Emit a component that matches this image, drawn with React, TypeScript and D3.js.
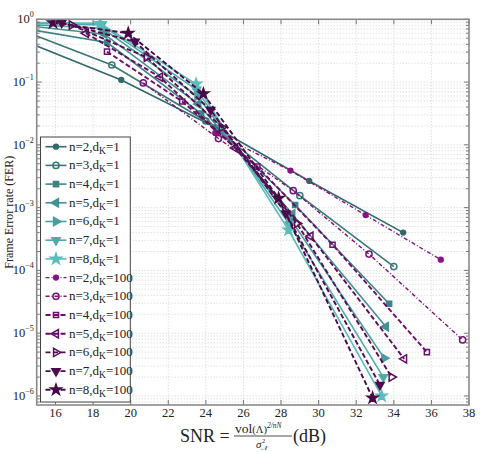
import React from 'react';
import * as d3 from 'd3';

// SNR (dB) and FER per series
// d_K = 1 (solid)
const snrA2 = [15, 19.5, 24.5, 29.5, 34.5];
const ferA2 = [0.376, 0.108, 0.0191, 2.66e-3, 4.0e-4];
const snrA3 = [15, 19, 24, 29, 34];
const ferA3 = [0.542, 0.187, 0.024, 1.55e-3, 1.15e-4];
const snrA4 = [15, 18.75, 23.75, 28.75, 33.75];
const ferA4 = [0.66, 0.427, 0.0316, 1.1e-3, 2.95e-5];
const snrA5 = [15, 18.6, 23.6, 28.6, 33.58];
const ferA5 = [0.76, 0.58, 0.0447, 7.9e-4, 1.27e-5];
const snrA6 = [15, 18.5, 23.55, 28.5, 33.49];
const ferA6 = [0.81, 0.72, 0.06, 6.6e-4, 4.0e-6];
const snrA7 = [15, 18.45, 23.5, 28.45, 33.44];
const ferA7 = [0.86, 0.81, 0.076, 5.4e-4, 2.0e-6];
const snrA8 = [15, 18.38, 23.48, 28.4, 33.35];
const ferA8 = [0.89, 0.86, 0.093, 4.4e-4, 1.0e-6];

// d_K = 100 (dashed)
const snrB2 = [24.5, 28.5, 32.5, 36.5];
const ferB2 = [0.0155, 3.9e-3, 7.6e-4, 1.48e-4];
const snrB3 = [20.67, 24.67, 28.65, 32.68, 37.66];
const ferB3 = [0.097, 0.0126, 1.86e-3, 1.82e-4, 7.8e-6];
const snrB4 = [18.74, 22.74, 26.74, 30.74, 35.76];
const ferB4 = [0.305, 0.049, 4.5e-3, 2.57e-4, 5.0e-6];
const snrB5 = [17.62, 21.56, 25.56, 29.57, 34.55];
const ferB5 = [0.6, 0.12, 8.9e-3, 3.5e-4, 3.9e-6];
const snrB6 = [16.86, 20.85, 24.85, 28.85, 33.88];
const ferB6 = [0.81, 0.248, 0.019, 5.6e-4, 2.0e-6];
const snrB7 = [16.33, 20.23, 24.25, 28.25, 33.26];
const ferB7 = [0.88, 0.44, 0.036, 8.1e-4, 1.5e-6];
const snrB8 = [15.87, 19.87, 23.87, 27.87, 32.87];
const ferB8 = [0.88, 0.6, 0.065, 1.41e-3, 9.3e-7];

const nValues = [2, 3, 4, 5, 6, 7, 8];
const xTicks = [16, 18, 20, 22, 24, 26, 28, 30, 32, 34, 36, 38];
const yTickExps = [0, -1, -2, -3, -4, -5, -6];

const tealColors = ['#326969', '#3a7777', '#3f8484', '#459090', '#4b9d9d', '#52abab', '#5bbcbc'];
const purpleColors = ['#861486', '#7a117a', '#6c0f6c', '#600d60', '#570c57', '#4f0b4f', '#470a47'];

const seriesA = [
  [snrA2, ferA2], [snrA3, ferA3], [snrA4, ferA4], [snrA5, ferA5],
  [snrA6, ferA6], [snrA7, ferA7], [snrA8, ferA8],
];
const seriesB = [
  [snrB2, ferB2], [snrB3, ferB3], [snrB4, ferB4], [snrB5, ferB5],
  [snrB6, ferB6], [snrB7, ferB7], [snrB8, ferB8],
];

const W = 499;
const H = 452;
const margin = { top: 19.3, right: 30, bottom: 47, left: 36.7 };
const iw = W - margin.left - margin.right;
const ih = H - margin.top - margin.bottom;
const FONT = "'Liberation Serif', 'Times New Roman', 'DejaVu Serif', serif";

const x = d3.scaleLinear().domain([15, 38]).range([0, iw]);
const y = d3.scaleLog().domain([7.18e-7, 1]).range([ih, 0]);

// marker spec per n: symbol, rotation, size
const markerSpec = (n: number) => {
  switch (n) {
    case 2: return { type: d3.symbolCircle, rot: 0, size: 18 };
    case 3: return { type: d3.symbolCircle, rot: 0, size: 30 };
    case 4: return { type: d3.symbolSquare, rot: 0, size: 26 };
    case 5: return { type: d3.symbolTriangle, rot: -90, size: 30 };
    case 6: return { type: d3.symbolTriangle, rot: 90, size: 30 };
    case 7: return { type: d3.symbolTriangle, rot: 180, size: 30 };
    default: return { type: d3.symbolStar, rot: 0, size: 36 };
  }
};

const openA = (n: number) => n === 3;
const openB = (n: number) => n >= 3 && n <= 6;

const Marker = ({ n, cx, cy, color, open }) => {
  const s = markerSpec(n);
  const d = d3.symbol(s.type, s.size)();
  return (
    <path
      d={d}
      transform={`translate(${cx},${cy}) rotate(${s.rot})`}
      fill={open ? 'none' : color}
      stroke={color}
      strokeWidth={1.5}
    />
  );
};

const lineGen = d3
  .line<[number, number]>()
  .x((d) => x(d[0]))
  .y((d) => y(d[1]));

const dashFor = (n: number) => (n <= 3 ? '4,2,1,2' : '5,2.5');

export default function App() {
  const minorY: number[] = [];
  for (let k = -7; k <= -1; k++) {
    for (let m = 1; m <= 9; m++) {
      const v = m * Math.pow(10, k);
      if (v >= 7.18e-7 && v <= 1) minorY.push(v);
    }
  }
  minorY.push(1);

  const rowY0 = 146.7 - margin.top;
  const rowH = 18.7;
  const legX = 40.5 - margin.left;

  const renderSeries = (set, colors, dashed) =>
    set.map(([xs, ys], i) => {
      const n = nValues[i];
      const pts = xs.map((v, j) => [v, ys[j]] as [number, number]);
      const c = colors[i];
      return (
        <g key={`${dashed ? 'b' : 'a'}${n}`}>
          <path
            d={lineGen(pts) || ''}
            fill="none"
            stroke={c}
            strokeWidth={dashed ? (n <= 3 ? 1.4 : 1.9) : 1.6}
            strokeDasharray={dashed ? dashFor(n) : undefined}
          />
          {pts
            .filter((p) => p[0] > 15.05)
            .map((p, j) => (
              <Marker
                key={j}
                n={n}
                cx={x(p[0])}
                cy={y(p[1])}
                color={c}
                open={dashed ? openB(n) : openA(n)}
              />
            ))}
        </g>
      );
    });

  return (
    <svg
      width={W}
      height={H}
      style={{ position: 'absolute', left: 0, top: 0, background: '#fff', fontFamily: FONT }}
    >
      <defs>
        <clipPath id="plotclip">
          <rect x={0} y={0} width={iw} height={ih} />
        </clipPath>
      </defs>
      <g transform={`translate(${margin.left},${margin.top})`}>
        {/* grid */}
        {xTicks.slice(0, -1).map((t) => (
          <line key={`gx${t}`} x1={x(t)} x2={x(t)} y1={0} y2={ih}
            stroke="#c8c8c8" strokeWidth={0.8} strokeDasharray="1,2" />
        ))}
        {minorY.map((v, i) => (
          <line key={`gy${i}`} x1={0} x2={iw} y1={y(v)} y2={y(v)}
            stroke="#c8c8c8" strokeWidth={0.8} strokeDasharray="1,2" />
        ))}

        {/* series */}
        <g clipPath="url(#plotclip)">
          {renderSeries(seriesA, tealColors, false)}
          {renderSeries(seriesB, purpleColors, true)}
        </g>

        {/* ticks */}
        {xTicks.map((t) => (
          <g key={`tx${t}`}>
            <line x1={x(t)} x2={x(t)} y1={ih} y2={ih - 5} stroke="#555" strokeWidth={0.8} />
            <line x1={x(t)} x2={x(t)} y1={0} y2={5} stroke="#555" strokeWidth={0.8} />
            <text x={x(t)} y={ih + 12.5} textAnchor="middle" fontSize={12.5} fill="#222">{t}</text>
          </g>
        ))}
        {minorY.map((v, i) => {
          const major = Math.abs(Math.log10(v) - Math.round(Math.log10(v))) < 1e-9;
          const len = major ? 5 : 3;
          return (
            <g key={`ty${i}`}>
              <line x1={0} x2={len} y1={y(v)} y2={y(v)} stroke="#555" strokeWidth={0.8} />
              <line x1={iw} x2={iw - len} y1={y(v)} y2={y(v)} stroke="#555" strokeWidth={0.8} />
            </g>
          );
        })}
        {yTickExps.map((e) => (
          <text key={`yl${e}`} x={-3} y={y(Math.pow(10, e)) + 4} textAnchor="end" fontSize={12.5} fill="#222">
            10
            <tspan fontSize={8} dy={-6}>{e === 0 ? '0' : `\u2212${-e}`}</tspan>
          </text>
        ))}

        {/* frame */}
        <rect x={0} y={0} width={iw} height={ih} fill="none" stroke="#8a8a8a" strokeWidth={1.6} />

        {/* legend */}
        <g>
          <rect x={legX} y={137 - margin.top} width={89.8} height={265}
            fill="#fff" stroke="#444" strokeWidth={1} />
          {[...nValues.map((n, i) => ({ n, i, d: 1 })), ...nValues.map((n, i) => ({ n, i, d: 100 }))].map(
            (it, k) => {
              const ry = rowY0 + k * rowH;
              const dashed = it.d === 100;
              const c = dashed ? purpleColors[it.i] : tealColors[it.i];
              return (
                <g key={`leg${k}`}>
                  <line x1={legX + 5} x2={legX + 26} y1={ry} y2={ry} stroke={c}
                    strokeWidth={dashed ? (it.n <= 3 ? 1.4 : 1.9) : 1.6}
                    strokeDasharray={dashed ? dashFor(it.n) : undefined} />
                  <Marker n={it.n} cx={legX + 15.5} cy={ry} color={c}
                    open={dashed ? openB(it.n) : openA(it.n)} />
                  <text x={legX + 28.5} y={ry + 4} fontSize={13} fill="#222">
                    {`n=${it.n},d`}
                    <tspan fontSize={9.5} dy={3}>K</tspan>
                    <tspan dy={-3}>{`=${it.d}`}</tspan>
                  </text>
                </g>
              );
            }
          )}
        </g>
      </g>

      {/* y label */}
      <text transform={`translate(13,${margin.top + ih / 2}) rotate(-90)`} textAnchor="middle"
        fontSize={12} fill="#222">Frame Error rate (FER)</text>

      {/* x label */}
      <g fill="#222">
        <text x={180} y={442} fontSize={18}>SNR =</text>
        <text x={235} y={433} fontSize={13.5}>
          vol
          <tspan fontSize={10.5}>(Λ)</tspan>
          <tspan fontSize={7.5} dy={-5} fontStyle="italic">2/nN</tspan>
        </text>
        <line x1={234} x2={292} y1={436} y2={436} stroke="#222" strokeWidth={0.8} />
        <text x={256} y={448} fontSize={11} fontStyle="italic">
          σ
          <tspan fontSize={6.5} dy={2}>𝒩</tspan>
        </text>
        <text x={262} y={442.5} fontSize={6.5}>2</text>
        <text x={293} y={442} fontSize={18}>(dB)</text>
      </g>
    </svg>
  );
}
